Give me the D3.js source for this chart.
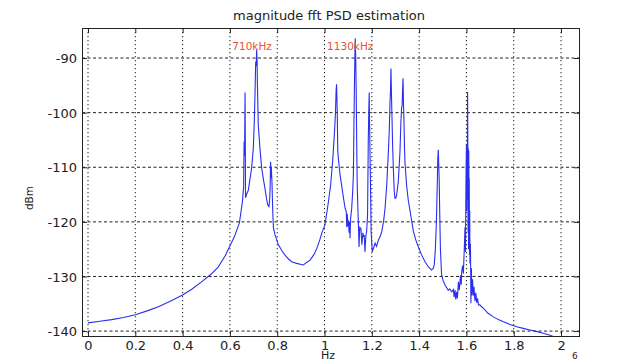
<!DOCTYPE html>
<meta charset="utf-8">
<style>
  body { margin: 0; background: #fff; }
  text { font-family: "DejaVu Sans", sans-serif; }
</style>

<!-- Load d3.js -->
<script src="https://d3js.org/d3.v7.min.js"></script>

<div id="my_dataviz"></div>

<script>

// frequency (x10^6 Hz) and PSD (dBm)
var freq = [
  0.000, 0.050, 0.100, 0.150, 0.200, 0.250, 0.300, 0.350, 0.400, 0.440,
  0.480, 0.520, 0.550, 0.580, 0.600, 0.620, 0.640, 0.653, 0.658, 0.660,
  0.662, 0.664, 0.665, 0.666, 0.670, 0.678, 0.686, 0.692, 0.699, 0.703,
  0.706, 0.709, 0.711, 0.713, 0.715, 0.716, 0.720, 0.727, 0.734, 0.742,
  0.748, 0.755, 0.760, 0.765, 0.768, 0.770, 0.772, 0.774, 0.775, 0.778,
  0.781, 0.784, 0.791, 0.805, 0.820, 0.833, 0.848, 0.861, 0.882, 0.910,
  0.939, 0.955, 0.967, 0.980, 0.988, 1.002, 1.016, 1.026, 1.035, 1.042,
  1.046, 1.049, 1.051, 1.052, 1.054, 1.056, 1.060, 1.066, 1.073, 1.079,
  1.087, 1.092, 1.094, 1.096, 1.099, 1.101, 1.104, 1.106, 1.108, 1.110,
  1.115, 1.119, 1.122, 1.124, 1.126, 1.128, 1.130, 1.132, 1.134, 1.136,
  1.138, 1.141, 1.143, 1.146, 1.149, 1.154, 1.158, 1.162, 1.166, 1.168,
  1.171, 1.175, 1.178, 1.182, 1.185, 1.187, 1.189, 1.190, 1.192, 1.195,
  1.197, 1.202, 1.208, 1.214, 1.220, 1.228, 1.235, 1.242, 1.250, 1.256,
  1.263, 1.270, 1.274, 1.277, 1.279, 1.281, 1.283, 1.285, 1.288, 1.291,
  1.295, 1.298, 1.302, 1.305, 1.312, 1.319, 1.323, 1.326, 1.328, 1.330,
  1.332, 1.334, 1.336, 1.338, 1.340, 1.347, 1.354, 1.362, 1.376, 1.386,
  1.397, 1.410, 1.425, 1.440, 1.453, 1.460, 1.464, 1.468, 1.471, 1.473,
  1.477, 1.479, 1.481, 1.483, 1.485, 1.487, 1.490, 1.495, 1.502, 1.510,
  1.523, 1.530, 1.538, 1.545, 1.548, 1.552, 1.555, 1.559, 1.562, 1.566,
  1.570, 1.575, 1.578, 1.580, 1.584, 1.587, 1.591, 1.594, 1.596, 1.598,
  1.600, 1.601, 1.602, 1.603, 1.604, 1.605, 1.606, 1.607, 1.608, 1.609,
  1.610, 1.611, 1.612, 1.613, 1.614, 1.615, 1.617, 1.619, 1.621, 1.623,
  1.626, 1.629, 1.632, 1.636, 1.640, 1.643, 1.647, 1.651, 1.657, 1.665,
  1.672, 1.690, 1.714, 1.735, 1.756, 1.785, 1.813, 1.840, 1.869, 1.900,
  1.925, 1.950, 1.968, 2.000
];
var psd = [
  -138.5, -138.2, -137.9, -137.5, -137.0, -136.3, -135.5, -134.5, -133.4, -132.3,
  -131.0, -129.6, -128.3, -126.2, -124.4, -122.6, -120.2, -116.3, -113.5, -105.3,
  -108.0, -96.3, -104.0, -115.6, -115.0, -114.2, -111.8, -110.1, -106.5, -101.7,
  -96.8, -90.7, -91.5, -88.5, -90.5, -94.3, -102.3, -106.5, -110.1, -112.3,
  -113.8, -115.8, -116.9, -117.2, -116.0, -113.8, -109.0, -112.0, -109.9, -113.0,
  -118.0, -121.1, -122.4, -124.2, -125.3, -126.1, -126.8, -127.3, -127.6, -127.9,
  -127.0, -126.0, -124.9, -123.3, -122.1, -120.5, -116.5, -113.2, -108.5, -103.7,
  -100.4, -96.0, -94.8, -96.5, -100.4, -107.0, -109.0, -111.5, -113.5, -115.3,
  -117.5, -118.1, -121.0, -118.5, -120.8, -119.7, -122.0, -120.0, -123.0, -119.5,
  -117.5, -114.5, -111.4, -104.0, -96.8, -90.5, -86.4, -90.0, -96.2, -105.0,
  -112.6, -117.5, -120.0, -124.6, -121.0, -121.2, -124.2, -122.0, -122.8, -122.4,
  -125.5, -122.5, -121.8, -118.7, -105.3, -100.0, -96.3, -100.5, -106.5, -115.0,
  -121.8, -125.5, -124.7, -123.9, -124.5, -123.3, -122.7, -121.8, -119.8, -117.5,
  -113.3, -107.2, -103.0, -98.0, -96.0, -91.9, -96.5, -100.4, -106.0, -110.2,
  -114.5, -115.7, -115.6, -115.0, -112.6, -107.2, -101.7, -99.0, -98.9, -96.0,
  -93.7, -98.5, -101.7, -106.0, -109.0, -113.3, -116.0, -118.1, -121.8, -123.3,
  -124.6, -126.0, -127.3, -128.3, -128.8, -128.5, -127.9, -125.5, -122.5, -120.0,
  -112.6, -108.5, -106.8, -109.5, -112.6, -118.0, -124.9, -129.7, -130.8, -131.6,
  -132.5, -132.3, -132.8, -132.4, -133.8, -132.5, -134.2, -132.8, -134.0, -131.0,
  -132.5, -129.8, -131.5, -129.1, -128.0, -129.5, -124.9, -121.0, -125.5, -113.3,
  -105.9, -118.0, -106.5, -116.0, -106.0, -96.2, -106.5, -122.0, -106.5, -125.0,
  -107.0, -121.0, -112.0, -126.0, -118.0, -127.6, -124.0, -134.9, -128.5, -133.5,
  -130.5, -133.5, -131.9, -134.5, -133.0, -134.8, -134.0, -135.2, -135.2, -135.6,
  -135.8, -136.7, -137.4, -137.9, -138.3, -138.8, -139.2, -139.5, -139.8, -140.1,
  -140.4, -140.7, -141.0, -141.4
];

var xTicks = [0, 0.2, 0.4, 0.6, 0.8, 1, 1.2, 1.4, 1.6, 1.8, 2];
var yTicks = [-140, -130, -120, -110, -100, -90];

// peak labels
var peakLabels = ["710kHz", "1130kHz"];
var peakLabelX = [0.61, 1.011];
var peakLabelY = [-88.5, -88.5];

// set the dimensions and margins of the graph
var margin = {top: 28, right: 55, bottom: 26, left: 82},
    width = 634 - margin.left - margin.right,
    height = 362 - margin.top - margin.bottom;

var svg = d3.select("#my_dataviz")
  .append("svg")
    .attr("width", 634)
    .attr("height", 362)
  .append("g")
    .attr("transform", "translate(" + margin.left + "," + margin.top + ")");

var x = d3.scaleLinear()
    .domain([-0.0254, 2.076])
    .range([0, width]);

var y = d3.scaleLinear()
    .domain([-140.9, -84.5])
    .range([height, 0]);

// grid
svg.append("g")
  .selectAll("line")
  .data(yTicks)
  .enter()
  .append("line")
    .attr("x1", 0)
    .attr("x2", width)
    .attr("y1", function(d) { return y(d); })
    .attr("y2", function(d) { return y(d); })
    .style("stroke", "#222")
    .style("stroke-width", 1)
    .style("stroke-dasharray", "3,2.5");

svg.append("g")
  .selectAll("line")
  .data(xTicks)
  .enter()
  .append("line")
    .attr("x1", function(d) { return x(d); })
    .attr("x2", function(d) { return x(d); })
    .attr("y1", 0)
    .attr("y2", height)
    .style("stroke", "#222")
    .style("stroke-width", 1)
    .style("stroke-dasharray", "1.3,2.7");

// the spectrum
svg.append("clipPath")
    .attr("id", "clip")
  .append("rect")
    .attr("width", width)
    .attr("height", height);

var pts = freq.map(function(f, i) { return [f, psd[i]]; });

svg.append("path")
    .datum(pts)
    .attr("clip-path", "url(#clip)")
    .attr("fill", "none")
    .attr("stroke", "#2a2ef0")
    .attr("stroke-width", 1.1)
    .attr("d", d3.line()
      .x(function(d) { return x(d[0]); })
      .y(function(d) { return y(d[1]); }));

// axes (plain hyphen for the minus sign, as in the original)
var fmt = function(d) { return String(d); };

var xAxis = svg.append("g")
    .attr("transform", "translate(0," + height + ")")
    .call(d3.axisBottom(x).tickValues(xTicks).tickFormat(fmt).tickSize(-5).tickPadding(5));

var yAxis = svg.append("g")
    .call(d3.axisLeft(y).tickValues(yTicks).tickFormat(fmt).tickSize(-5).tickPadding(5));

svg.append("g")
    .call(d3.axisTop(x).tickValues(xTicks).tickSize(-5).tickFormat(""));

svg.append("g")
    .attr("transform", "translate(" + width + ",0)")
    .call(d3.axisRight(y).tickValues(yTicks).tickSize(-5).tickFormat(""));

svg.selectAll(".domain").style("stroke", "#222");
svg.selectAll(".tick line").style("stroke", "#222");
svg.selectAll(".tick text")
    .style("font-family", "DejaVu Sans")
    .style("font-size", "13px")
    .style("fill", "#222");
yAxis.selectAll(".tick text").attr("dy", "0.36em");

// peak labels
svg.append("g")
  .selectAll("text")
  .data(peakLabels)
  .enter()
  .append("text")
    .attr("x", function(d, i) { return x(peakLabelX[i]); })
    .attr("y", function(d, i) { return y(peakLabelY[i]); })
    .style("font-size", "10.5px")
    .style("fill", "#e8502e")
    .text(function(d) { return d; });

// title
svg.append("text")
    .attr("x", 247)
    .attr("y", -8)
    .attr("text-anchor", "middle")
    .style("font-size", "13px")
    .style("fill", "#222")
    .text("magnitude fft PSD estimation");

// axis labels (sit at the very bottom edge)
svg.append("text")
    .attr("x", 246)
    .attr("y", height + 23)
    .attr("text-anchor", "middle")
    .style("font-size", "11px")
    .style("fill", "#222")
    .text("Hz");

svg.append("text")
    .attr("x", width - 7)
    .attr("y", height + 23)
    .style("font-size", "9px")
    .style("fill", "#222")
    .text("6");

svg.append("text")
    .attr("transform", "rotate(-90)")
    .attr("x", -170)
    .attr("y", -49)
    .attr("text-anchor", "middle")
    .style("font-size", "10.5px")
    .style("fill", "#222")
    .text("dBm");

</script>
